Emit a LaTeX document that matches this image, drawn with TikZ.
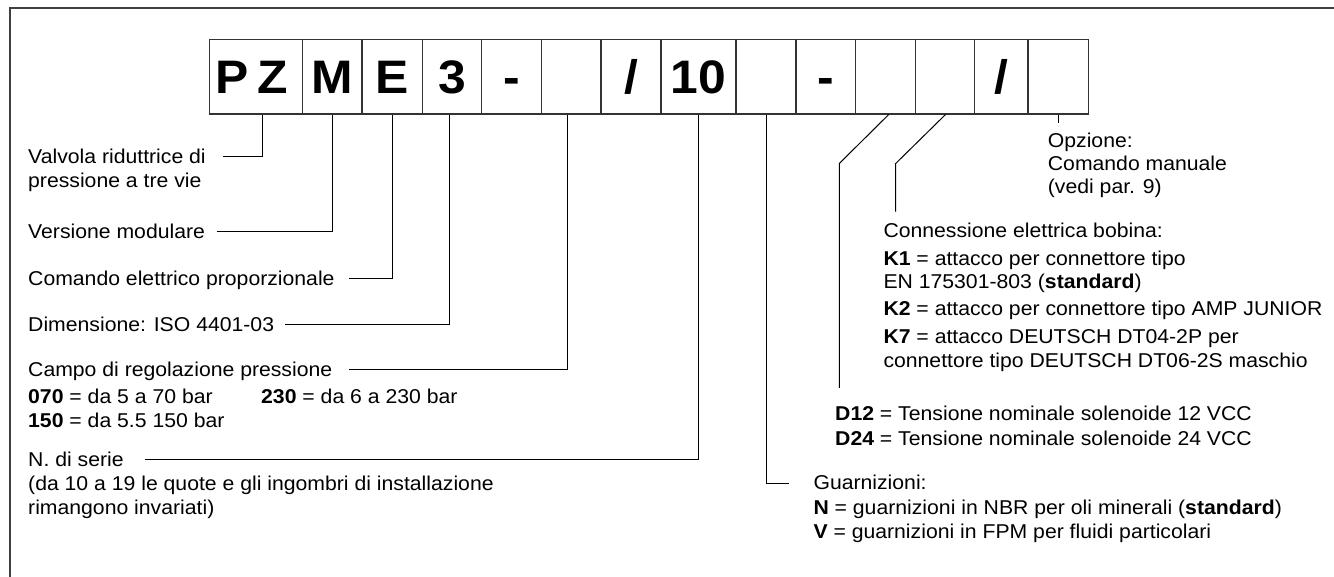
\documentclass[tikz,border=0pt]{standalone}
\usepackage{fontspec}
\setmainfont{Liberation Sans}[FakeStretch=1.06]
\begin{document}
\begin{tikzpicture}[x=1pt,y=-1pt,
  frame/.style={draw=black!75,line width=1.5pt},
  cell/.style={draw=black!80,line width=1.1pt,rectangle,inner sep=0pt,
    minimum height=74.7pt,text height=34pt,text depth=0pt,
    font=\fontsize{47}{47}\selectfont\bfseries},
  conn/.style={draw=black,line width=1pt},
  lbl/.style={anchor=base west,inner sep=0pt,font=\fontsize{20}{24}\selectfont}]
\useasboundingbox (0,0) rectangle (1334,577);
\draw[frame] (1334,8) -- (10,8) -- (10,577);
% code boxes
\node[cell,minimum width=93.2pt] (b1) at (256.1,76.65) {\hspace*{-9pt}P\hspace{9pt}Z};
\node[cell,minimum width=59.3pt] (b2) at (332.35,76.65) {M};
\node[cell,minimum width=60.3pt] (b3) at (392.15,76.65) {E};
\node[cell,minimum width=59.4pt] (b4) at (452,76.65) {3};
\node[cell,minimum width=59.6pt] (b5) at (511.5,76.65) {-};
\node[cell,minimum width=59.7pt] (b6) at (571.15,76.65) {};
\node[cell,minimum width=60pt] (b7) at (631,76.65) {/};
\node[cell,minimum width=75pt] (b8) at (698.5,76.65) {10};
\node[cell,minimum width=60pt] (b9) at (766,76.65) {};
\node[cell,minimum width=59.3pt] (b10) at (825.65,76.65) {-};
\node[cell,minimum width=60pt] (b11) at (885.3,76.65) {};
\node[cell,minimum width=59.4pt] (b12) at (945,76.65) {};
\node[cell,minimum width=53.3pt] (b13) at (1001.35,76.65) {/};
\node[cell,minimum width=60.7pt] (b14) at (1058.35,76.65) {};
% left labels
\node[lbl] (valv1) at (28,164) {Valvola riduttrice di};
\node[lbl] (valv2) at (28,188) {pressione a tre vie};
\node[lbl] (vers) at (28,239) {Versione modulare};
\node[lbl] (comel) at (28,286) {Comando elettrico proporzionale};
\node[lbl] (dim) at (28,332) {Dimensione: ISO 4401-03};
\node[lbl] (campo) at (28,377) {Campo di regolazione pressione};
\node[lbl] (r070) at (28,403) {\textbf{070} = da 5 a 70 bar};
\node[lbl] (r230) at (261,403) {\textbf{230} = da 6 a 230 bar};
\node[lbl] (r150) at (28,427) {\textbf{150} = da 5.5 150 bar};
\node[lbl] (ser1) at (28,466) {N. di serie};
\node[lbl] (ser2) at (28,490) {(da 10 a 19 le quote e gli ingombri di installazione};
\node[lbl] (ser3) at (28,514) {rimangono invariati)};
% right labels
\node[lbl] (opz1) at (1047.7,147.7) {Opzione:};
\node[lbl] (opz2) at (1047.7,171) {Comando manuale};
\node[lbl] (opz3) at (1047.7,194) {(vedi par. 9)};
\node[lbl] (con) at (883.3,237.3) {Connessione elettrica bobina:};
\node[lbl] (k1) at (883.3,265.7) {\textbf{K1} = attacco per connettore tipo};
\node[lbl] (en) at (883.3,288.5) {EN 175301-803 (\textbf{standard})};
\node[lbl] (k2) at (883.3,316) {\textbf{K2} = attacco per connettore tipo AMP JUNIOR};
\node[lbl] (k7) at (883.3,344) {\textbf{K7} = attacco DEUTSCH DT04-2P per};
\node[lbl] (dt) at (883.3,367) {connettore tipo DEUTSCH DT06-2S maschio};
\node[lbl] (d12) at (835,420.3) {\textbf{D12} = Tensione nominale solenoide 12 VCC};
\node[lbl] (d24) at (835,445) {\textbf{D24} = Tensione nominale solenoide 24 VCC};
\node[lbl] (gua) at (813.3,489.7) {Guarnizioni:};
\node[lbl] (gn) at (813.3,514.7) {\textbf{N} = guarnizioni in NBR per oli minerali (\textbf{standard})};
\node[lbl] (gv) at (813.3,538.7) {\textbf{V} = guarnizioni in FPM per fluidi particolari};
% connector ends
\coordinate (e1) at (222.7,156.7);
\coordinate (e2) at (216.7,231.7);
\coordinate (e3) at (348.8,279);
\coordinate (e4) at (284.5,325);
\coordinate (e6) at (348.8,369.7);
\coordinate (e8) at (145,459);
\coordinate (e9) at (789.3,483);
\coordinate (k11) at (839.3,163.5);
\coordinate (e11) at (839.3,388);
\coordinate (k12) at (895.7,163.5);
\coordinate (e12) at (895.7,211.7);
\coordinate (e14) at (1058.35,123.3);
% connectors
\draw[conn] ([xshift=6.6pt]b1.south) |- (e1);
\draw[conn] (b2.south) |- (e2);
\draw[conn] (b3.south) |- (e3);
\draw[conn] ([xshift=-2.3pt]b4.south) |- (e4);
\draw[conn] ([xshift=-3.6pt]b6.south) |- (e6);
\draw[conn] (b8.south) |- (e8);
\draw[conn] (b9.south) |- (e9);
\draw[conn] ([xshift=3.4pt]b11.south) -- (k11) -- (e11);
\draw[conn] ([xshift=0.5pt]b12.south) -- (k12) -- (e12);
\draw[conn] (b14.south) -- (e14);
\end{tikzpicture}
\end{document}
